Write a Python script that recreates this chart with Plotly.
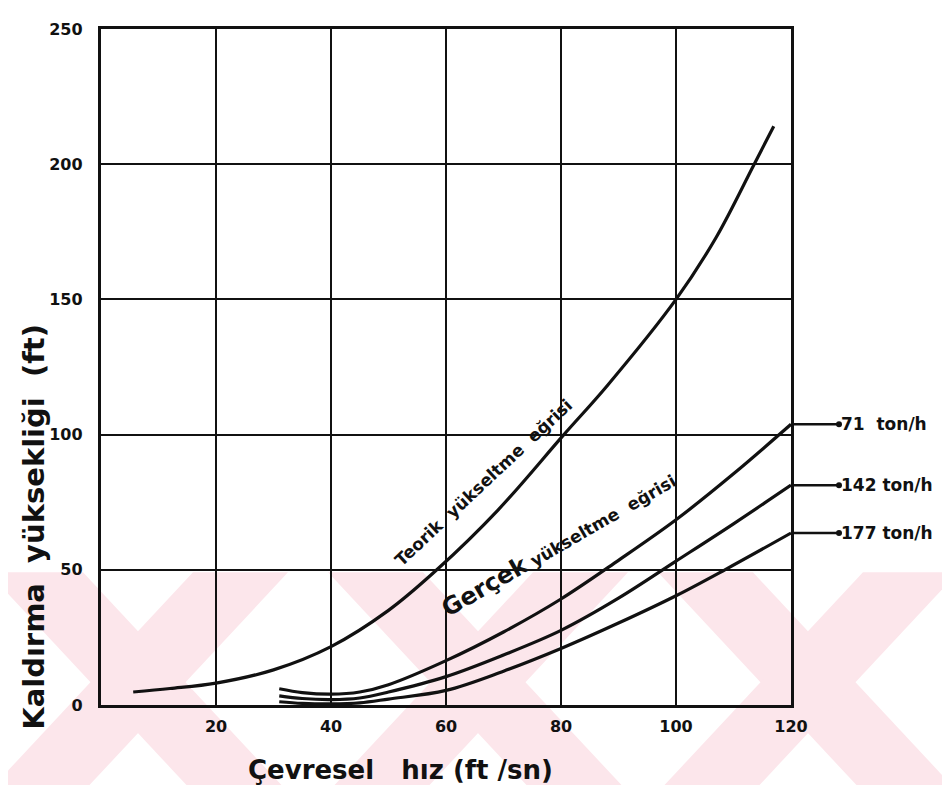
import plotly.graph_objects as go

# ---- data ----
x_teorik = [5.6, 12, 20, 30, 40, 50, 58.4, 69, 80.5, 88, 100, 107, 113.6, 117]
y_teorik = [4.8, 6.1, 8.1, 13.0, 21.6, 35, 50, 72, 100, 118, 150, 173, 200, 214]

x_71 = [31, 35, 40, 45, 50, 60, 70, 80, 90, 100, 110, 120]
y_71 = [6.0, 4.6, 4.0, 4.8, 7.5, 16.4, 27, 39.2, 53.5, 68.5, 85.5, 103.8]

x_142 = [31, 35, 40, 45, 50, 60, 70, 80, 90, 100, 110, 120]
y_142 = [3.4, 2.4, 2.0, 2.6, 4.8, 10.5, 18.5, 27.6, 39.5, 53.2, 67, 81.3]

x_177 = [31, 35, 40, 45, 50, 60, 70, 80, 90, 100, 108.5, 120]
y_177 = [1.2, 0.6, 0.4, 0.8, 2.2, 5.4, 12.5, 20.9, 30.3, 40.4, 50, 63.6]

flow_labels = ["71\u00a0\u00a0ton/h", "142\u00a0ton/h", "177\u00a0ton/h"]
x_ticks = [20, 40, 60, 80, 100, 120]
y_ticks = [0, 50, 100, 150, 200, 250]

INK = "#111111"
FONT = "DejaVu Sans"
NB = "\u00a0"

fig = go.Figure()

for xs, ys in [(x_teorik, y_teorik), (x_71, y_71), (x_142, y_142), (x_177, y_177)]:
    fig.add_trace(go.Scatter(x=xs, y=ys, mode="lines",
                             line=dict(color=INK, width=3.2, shape="spline", smoothing=1.0),
                             hoverinfo="skip", showlegend=False))

# ---- pale pink watermark (decoration, pixel geometry -> paper coords) ----
L, R, T, B = 93, 783, 14, 697
def px2paper(px, py):
    return (px - L) / (R - L), (B - py) / (B - T)

def band(x_top0, x_top1, x_bot0, x_bot1, y0=563, y1=785):
    pts = [(x_top0, y0), (x_top1, y0), (x_bot1, y1), (x_bot0, y1)]
    s = ""
    for i, (a, b) in enumerate(pts):
        u, v = px2paper(a, b)
        s += ("M" if i == 0 else "L") + f"{u:.4f},{v:.4f} "
    return s + "Z"

PINK = "#fce6eb"
for cx in [130, 470, 800]:
    for path in [band(cx - 150, cx - 55, cx + 55, cx + 150),
                 band(cx + 55, cx + 150, cx - 150, cx - 55)]:
        fig.add_shape(type="path", path=path, xref="paper", yref="paper",
                      fillcolor=PINK, line=dict(width=0), layer="below")

fig.update_xaxes(range=[0, 120], tickvals=x_ticks, showgrid=True, gridcolor=INK, gridwidth=1.6,
                 showline=True, linecolor=INK, linewidth=3.4, mirror=True, zeroline=False,
                 ticks="", ticklabelstandoff=5,
                 tickfont=dict(family=FONT, size=16, color=INK, weight=700))
fig.update_yaxes(range=[0, 250], tickvals=y_ticks, showgrid=True, gridcolor=INK, gridwidth=1.6,
                 showline=True, linecolor=INK, linewidth=3.4, mirror=True, zeroline=False,
                 ticks="", ticklabelstandoff=12,
                 tickfont=dict(family=FONT, size=16, color=INK, weight=700))

# curve labels
fig.add_annotation(x=66.6, y=82.4, text=f"Teorik{NB}{NB}yükseltme{NB}{NB}eğrisi", showarrow=False,
                   textangle=-43, font=dict(family=FONT, size=17, color=INK, weight=700))
fig.add_annotation(x=79.6, y=59.6,
                   text=f"<span style='font-size:24px'>Gerçek</span>{NB}yükseltme{NB}{NB}eğrisi",
                   showarrow=False, textangle=-30,
                   font=dict(family=FONT, size=17, color=INK, weight=700))

# flow-rate labels attached to curve ends
for lab, yv in zip(flow_labels, [y_71[-1], y_142[-1], y_177[-1]]):
    fig.add_annotation(x=120, y=yv, text=lab, showarrow=True, ax=48, ay=0,
                       xanchor="left", arrowhead=0, arrowwidth=2.5, arrowcolor=INK,
                       arrowside="start", startarrowhead=6, startarrowsize=0.6,
                       font=dict(family=FONT, size=17, color=INK, weight=700))

# axis titles
fig.add_annotation(xref="paper", yref="paper", x=(26 - L) / (R - L), y=(B - 517) / (B - T),
                   text=f"Kaldırma{NB}{NB}yüksekliği{NB}{NB}(ft)", textangle=-90, showarrow=False,
                   xanchor="center", yanchor="middle",
                   font=dict(family=FONT, size=29, color=INK, weight=700))
fig.add_annotation(xref="paper", yref="paper", x=(392 - L) / (R - L), y=(B - 763) / (B - T),
                   text=f"Çevresel{NB}{NB}{NB}hız{NB}(ft{NB}/sn)", showarrow=False,
                   xanchor="center", yanchor="middle",
                   font=dict(family=FONT, size=26, color=INK, weight=700))

fig.update_layout(width=950, height=785, margin=dict(l=L, r=950 - R, t=T, b=785 - B),
                  paper_bgcolor="white", plot_bgcolor="rgba(0,0,0,0)",
                  font=dict(family=FONT, color=INK), showlegend=False)

fig.write_html("out.html")
